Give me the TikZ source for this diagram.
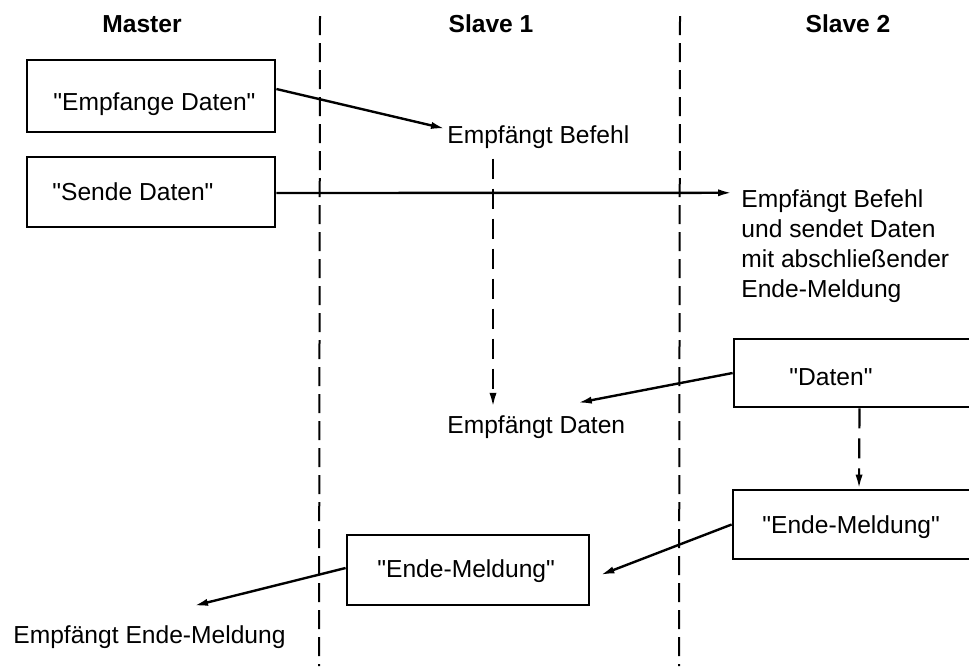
\documentclass[tikz,border=0pt]{standalone}
\usepackage{fontspec}
\setmainfont{Liberation Sans}[Ligatures=TeXOff]
\usetikzlibrary{arrows.meta}
\tikzset{
  lane/.style={line width=1pt, dash pattern=on 9.5pt off 4pt},
  boxnode/.style={draw, line width=1.4pt, inner sep=0pt},
  lbl/.style={inner sep=0pt, anchor=base west},
  ttl/.style={inner sep=0pt, anchor=base, font=\fontsize{12.3}{15}\selectfont\bfseries},
  msg/.style={line width=1.2pt, -{Latex[length=7pt,width=3.6pt]}},
  flow/.style={line width=1.1pt, dash pattern=on 10pt off 5pt, -{Latex[length=7pt,width=3.6pt]}}
}
\begin{document}
\begin{tikzpicture}[x=0.5pt,y=-0.5pt, font=\fontsize{12.3}{15}\selectfont]
\useasboundingbox (0,0) rectangle (969,666);
% lanes
\coordinate (l1t) at (320,16); \coordinate (l1b) at (319,666);
\coordinate (l2t) at (680,16); \coordinate (l2b) at (679,666);
\draw[lane] (l1t) -- (l1b);
\draw[lane] (l2t) -- (l2b);
% titles
\node[ttl] (tm) at (142,32) {Master};
\node[ttl] (ts1) at (491,32) {Slave 1};
\node[ttl] (ts2) at (848,32) {Slave 2};
% boxes
\node[boxnode, minimum width=124pt, minimum height=36pt] (b1) at (151,96) {};
\node[boxnode, minimum width=124pt, minimum height=35pt] (b2) at (151,192) {};
\node[boxnode, minimum width=125.5pt, minimum height=34pt] (bd) at (859.5,373) {};
\node[boxnode, minimum width=126pt, minimum height=34.5pt] (be) at (859,524.5) {};
\node[boxnode, minimum width=121pt, minimum height=35pt] (bm) at (468,570) {};
% texts
\node[lbl] (t1) at (53,110) {"Empfange Daten"};
\node[lbl] (t2) at (52,200) {"Sende Daten"};
\node[lbl] (eb) at (447,143) {Empfängt Befehl};
\node[lbl] (ed) at (447,433) {Empfängt Daten};
\node[lbl, align=left] (rt) at (741,297) {Empfängt Befehl\\und sendet Daten\\mit abschließender\\Ende-Meldung};
\node[lbl] (td) at (789,385) {"Daten"};
\node[lbl] (te) at (762,533) {"Ende-Meldung"};
\node[lbl] (tmid) at (377,577) {"Ende-Meldung"};
\node[lbl] (ee) at (13,643) {Empfängt Ende-Meldung};
% connectors
\draw[msg] ([yshift=3.5pt]b1.east) -- ([xshift=-1pt,yshift=4pt]eb.west);
\draw[msg] ([yshift=-0.5pt]b2.east) -- ([xshift=-4.5pt,yshift=-2pt]rt.north west);
\draw[flow] ([xshift=23pt,yshift=-5pt]eb.south west) -- ([xshift=23pt,yshift=4pt]ed.north west);
\draw[msg] (bd.west) -- ([xshift=20.75pt,yshift=6pt]ed.north);
\draw[flow] (bd.south) -- (be.north);
\draw[msg] (be.west) -- ([xshift=5pt,yshift=-2.5pt]bm.east);
\draw[msg] ([yshift=1pt]bm.west) -- ([xshift=22.25pt,yshift=9.5pt]ee.north);
\end{tikzpicture}
\end{document}
